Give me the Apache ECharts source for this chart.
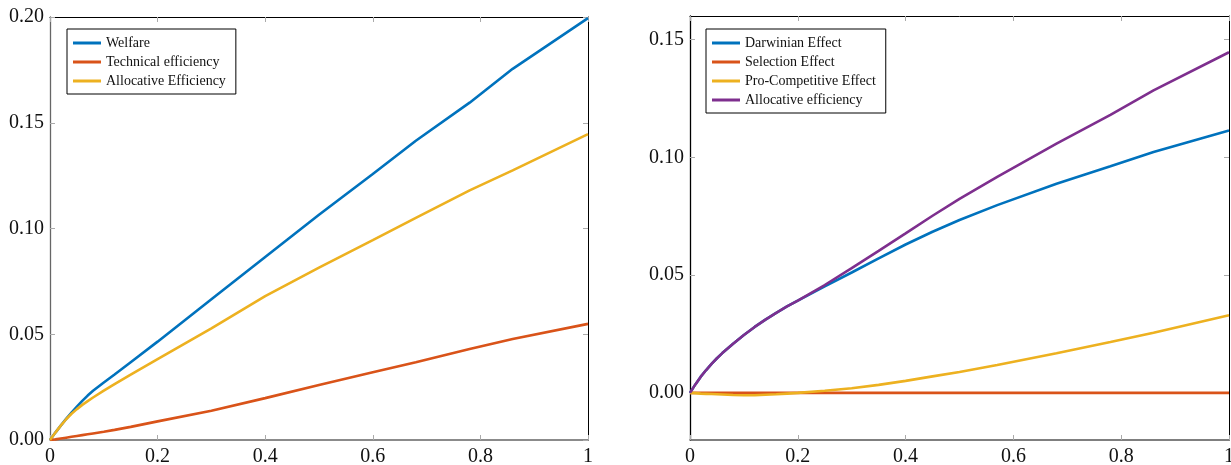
<!DOCTYPE html>
<html><head><meta charset="utf-8">
<script src="https://cdn.jsdelivr.net/npm/echarts@6/dist/echarts.min.js"></script>
<style>html,body{margin:0;padding:0;background:#fff}#c{width:1231px;height:465px}</style>
</head><body><div id="c"></div>
<script>
// ---- Left panel data ----
const leftX = [0, 0.01, 0.02, 0.03, 0.04, 0.05, 0.06, 0.07, 0.08, 0.1, 0.12, 0.15, 0.2, 0.3, 0.4, 0.5, 0.6, 0.68, 0.78, 0.86, 1];
const welfare = [0, 0.0035, 0.0068, 0.01, 0.013, 0.0158, 0.0185, 0.021, 0.0233, 0.0272, 0.031, 0.0368, 0.0465, 0.0665, 0.0865, 0.1065, 0.1258, 0.1415, 0.1595, 0.1755, 0.1995];
const technicalEff = [0, 0.0003, 0.0007, 0.0011, 0.0015, 0.0019, 0.0023, 0.0027, 0.0031, 0.0039, 0.0048, 0.0062, 0.0088, 0.0138, 0.0198, 0.026, 0.032, 0.0368, 0.043, 0.0478, 0.0549];
const allocativeEffL = [0, 0.0035, 0.0068, 0.0098, 0.0124, 0.0146, 0.0166, 0.0184, 0.0201, 0.0233, 0.0264, 0.0309, 0.0382, 0.0528, 0.068, 0.0815, 0.0945, 0.105, 0.118, 0.1275, 0.1446];
// ---- Right panel data ----
const rightX = [0, 0.01, 0.02, 0.03, 0.04, 0.05, 0.06, 0.08, 0.1, 0.12, 0.14, 0.16, 0.18, 0.2, 0.25, 0.3, 0.35, 0.4, 0.45, 0.5, 0.57, 0.68, 0.78, 0.86, 1];
const darwinian = [0, 0.0036, 0.0069, 0.0097, 0.0123, 0.0147, 0.0169, 0.0209, 0.0246, 0.028, 0.0311, 0.034, 0.0367, 0.0392, 0.0452, 0.0511, 0.0571, 0.063, 0.0684, 0.0734, 0.0797, 0.0888, 0.0962, 0.1023, 0.1114];
const selection = [0, 0, 0, 0, 0, 0, 0, 0, 0, 0, 0, 0, 0, 0, 0, 0, 0, 0, 0, 0, 0, 0, 0, 0, 0];
const proCompetitive = [0, -0.0001, -0.0003, -0.0004, -0.0005, -0.0006, -0.0007, -0.0009, -0.001, -0.001, -0.0008, -0.0006, -0.0003, 0, 0.0009, 0.002, 0.0034, 0.0051, 0.007, 0.0089, 0.0118, 0.0168, 0.0216, 0.0255, 0.033];
const allocativeEffR = [0, 0.0036, 0.0069, 0.0097, 0.0123, 0.0147, 0.0169, 0.0209, 0.0246, 0.028, 0.0311, 0.034, 0.0367, 0.0392, 0.0458, 0.053, 0.0603, 0.0677, 0.0752, 0.0824, 0.0917, 0.1058, 0.118, 0.1284, 0.1446];
// ---- Tick labels ----
const xTicks = [0, 0.2, 0.4, 0.6, 0.8, 1];
const yTicksLeft = [0, 0.05, 0.1, 0.15, 0.2];
const yTicksRight = [0, 0.05, 0.1, 0.15];

const C = {blue:'#0072BD', orange:'#D95319', yellow:'#EDB120', purple:'#7E2F8E'};
const FONT = '"Liberation Serif", "DejaVu Serif", serif';
const pair = (xs, ys) => xs.map((x, i) => [x, ys[i]]);
const xFmt = v => (v === 0 ? '0' : v === 1 ? '1' : v.toFixed(1));
const yFmt = v => v.toFixed(2);
const tick = {show: true, inside: true, length: 5, lineStyle: {color: '#aaa', width: 1}};

function xAxes(gi, botColor) {
  return [
    {type:'value', gridIndex:gi, min:0, max:1, position:'bottom',
     axisLine:{show:true, onZero:false, lineStyle:{color:botColor, width:1.5}},
     axisTick:Object.assign({customValues:xTicks}, tick), splitLine:{show:false},
     axisLabel:{customValues:xTicks, formatter:xFmt, fontFamily:FONT, fontSize:20, color:'#111', margin:7}},
    {type:'value', gridIndex:gi, min:0, max:1, position:'top',
     axisLine:{show:true, onZero:false, lineStyle:{color:'#000', width:1}},
     axisTick:Object.assign({customValues:xTicks}, tick), splitLine:{show:false}, axisLabel:{show:false}}
  ];
}
function yAxes(gi, min, max, ticks, leftColor) {
  return [
    {type:'value', gridIndex:gi, min:min, max:max, position:'left',
     axisLine:{show:true, onZero:false, lineStyle:{color:leftColor, width:1.3}},
     axisTick:Object.assign({customValues:ticks}, tick), splitLine:{show:false},
     axisLabel:{customValues:ticks, formatter:yFmt, fontFamily:FONT, fontSize:20, color:'#111', margin:6}},
    {type:'value', gridIndex:gi, min:min, max:max, position:'right',
     axisLine:{show:true, onZero:false, lineStyle:{color:'#000', width:1}},
     axisTick:Object.assign({customValues:ticks}, tick), splitLine:{show:false}, axisLabel:{show:false}}
  ];
}
function line(name, xi, yi, data, color) {
  return {name, type:'line', xAxisIndex:xi, yAxisIndex:yi, data, showSymbol:false, symbol:'none',
          lineStyle:{color, width:2.6}, itemStyle:{color}, animation:false};
}
const legendBase = {orient:'vertical', icon:'rect', itemWidth:28, itemHeight:3, itemGap:3,
  borderColor:'#000', borderWidth:1, backgroundColor:'#fff', padding:[6,10,5,6],
  textStyle:{fontFamily:FONT, fontSize:14, color:'#111', lineHeight:16}};

const chart = echarts.init(document.getElementById('c'), null, {renderer:'canvas'});
chart.setOption({
  animation:false,
  grid:[
    {left:50, right:643, top:17, bottom:25, outerBoundsMode:'none', containLabel:false},
    {left:690, right:2, top:16, bottom:25, outerBoundsMode:'none', containLabel:false}
  ],
  xAxis:[...xAxes(0, '#666'), ...xAxes(1, '#555')],
  yAxis:[...yAxes(0, 0, 0.2, yTicksLeft, '#666'), ...yAxes(1, -0.02, 0.16, yTicksRight, '#000')],
  legend:[
    Object.assign({left:67, top:29, data:['Welfare','Technical efficiency','Allocative Efficiency']}, legendBase),
    Object.assign({left:706, top:29, data:['Darwinian Effect','Selection Effect','Pro-Competitive Effect','Allocative efficiency']}, legendBase)
  ],
  series:[
    line('Welfare', 0, 0, pair(leftX, welfare), C.blue),
    line('Technical efficiency', 0, 0, pair(leftX, technicalEff), C.orange),
    line('Allocative Efficiency', 0, 0, pair(leftX, allocativeEffL), C.yellow),
    line('Darwinian Effect', 2, 2, pair(rightX, darwinian), C.blue),
    line('Selection Effect', 2, 2, pair(rightX, selection), C.orange),
    line('Pro-Competitive Effect', 2, 2, pair(rightX, proCompetitive), C.yellow),
    line('Allocative efficiency', 2, 2, pair(rightX, allocativeEffR), C.purple)
  ]
});
</script></body></html>
